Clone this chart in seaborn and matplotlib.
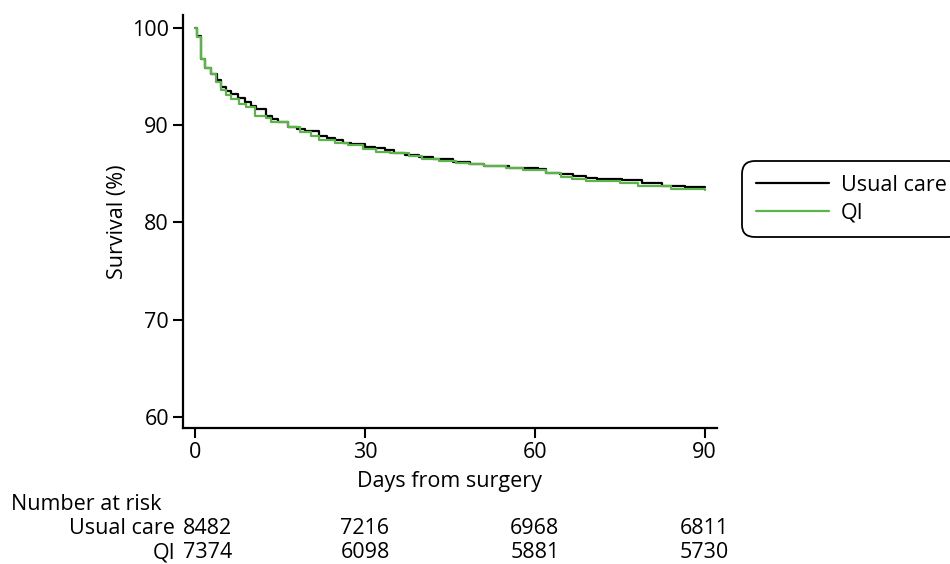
import pandas as pd
import numpy as np
import matplotlib.pyplot as plt
import matplotlib.transforms as mtransforms
import seaborn as sns

# Kaplan-Meier step values
usual_days = [0, 0.3, 1, 1.8, 2.7, 3.9, 4.5, 5.5, 6.4, 7.6, 8.8, 9.8, 10.8, 12.5, 13.6,
              14.7, 16.4, 18.0, 19.4, 21.8, 23.2, 24.7, 26.2, 27.6, 30, 31.8, 33.6, 35.2,
              37, 39.5, 42, 45.6, 48.5, 51, 55.5, 60.6, 62, 64.5, 66.8, 69, 71, 75.4, 79,
              82.5, 86.5, 90]
usual_surv = [100, 99.1, 96.8, 95.9, 95.2, 94.6, 93.9, 93.5, 93.2, 92.8, 92.4, 92.0, 91.6,
              90.9, 90.6, 90.3, 89.8, 89.6, 89.4, 88.9, 88.7, 88.5, 88.2, 88.0, 87.7, 87.6,
              87.4, 87.1, 86.9, 86.7, 86.5, 86.2, 86.0, 85.8, 85.6, 85.5, 85.1, 85.0, 84.8,
              84.6, 84.4, 84.3, 84.0, 83.7, 83.6, 83.6]

qi_days = [0, 0.3, 1, 1.8, 2.7, 3.6, 4.5, 5.5, 6.4, 7.8, 9, 10.6, 12.5, 13.4, 16.4, 18.6,
           20.5, 21.8, 24.7, 27, 29.7, 32, 34.5, 37.7, 40, 43, 46, 48.3, 51, 55, 58, 62,
           64.7, 66.5, 69, 75, 78.3, 84, 90]
qi_surv = [100, 99.0, 96.8, 95.9, 95.2, 94.4, 93.6, 93.1, 92.7, 92.2, 91.8, 90.9, 90.7,
           90.3, 89.8, 89.3, 88.9, 88.5, 88.2, 87.9, 87.5, 87.2, 87.1, 86.8, 86.5, 86.3,
           86.1, 86.0, 85.8, 85.6, 85.4, 85.1, 84.7, 84.4, 84.2, 84.0, 83.7, 83.4, 83.3]

groups = ["Usual care", "QI"]
risk_days = [0, 30, 60, 90]
risk_usual = [8482, 7216, 6968, 6811]
risk_qi = [7374, 6098, 5881, 5730]

df = pd.concat([
    pd.DataFrame({"day": usual_days, "surv": usual_surv, "group": "Usual care"}),
    pd.DataFrame({"day": qi_days, "surv": qi_surv, "group": "QI"}),
])

sns.set_style("ticks")
plt.rcParams["font.family"] = ["Open Sans", "DejaVu Sans"]
plt.rcParams["text.color"] = "black"
plt.rcParams["xtick.color"] = "black"
plt.rcParams["ytick.color"] = "black"
plt.rcParams["axes.labelcolor"] = "black"
fs = 15.5

fig = plt.figure(figsize=(9.5, 5.64), dpi=100)
ax = fig.add_axes([183 / 950, 1 - 427.7 / 564, (716.7 - 183) / 950, (427.7 - 15) / 564])

sns.lineplot(data=df, x="day", y="surv", hue="group", hue_order=groups,
             palette={"Usual care": "black", "QI": "#5ab448"},
             drawstyle="steps-post", estimator=None, linewidth=1.6, ax=ax)

ax.set_xlim(-2.16, 92.15)
ax.set_ylim(58.9, 101.3)
ax.set_xticks([0, 30, 60, 90])
ax.set_yticks([60, 70, 80, 90, 100])
ax.tick_params(labelsize=fs, length=7, width=1.5, pad=3)
for s in ["left", "bottom"]:
    ax.spines[s].set_linewidth(1.6)
    ax.spines[s].set_color("black")
sns.despine(ax=ax)
ax.set_xlabel("Days from surgery", fontsize=fs)
ax.set_ylabel("Survival (%)", fontsize=fs)
ax.xaxis.label.set_va("center")
ax.yaxis.label.set_va("center")
ax.xaxis.set_label_coords(0.5, (427.7 - 482) / 412.7)
ax.yaxis.set_label_coords((118 - 183) / 533.7, 0.5)

ax.legend_.remove()
handles, labels = ax.get_legend_handles_labels()
leg = fig.legend(handles, labels, loc="upper left", bbox_to_anchor=(742 / 950, 1 - 161 / 564),
                 fontsize=fs, frameon=True, fancybox=True, framealpha=1, handlelength=3.4,
                 handletextpad=0.55, labelspacing=0.3, borderpad=0.65, borderaxespad=0)
leg.get_frame().set_edgecolor("black")
leg.get_frame().set_linewidth(1.3)
leg.get_frame().set_boxstyle("round,pad=0,rounding_size=0.6")

# number at risk table
def fy(py):
    return 1 - py / 564

fig.text(11 / 950, fy(504), "Number at risk", fontsize=fs, va="center", ha="left")
rows = [("Usual care", risk_usual, 528), ("QI", risk_qi, 553)]
trans = mtransforms.blended_transform_factory(ax.transData, fig.transFigure)
x0 = ax.get_xlim()[0]
for label, vals, py in rows:
    fig.text(175 / 950, fy(py), label, fontsize=fs, va="center", ha="right")
    for d, v in zip(risk_days, vals):
        if d == 0:
            ax.text(x0, fy(py), str(v), fontsize=fs, va="center", ha="left",
                    transform=trans, clip_on=False)
        else:
            ax.text(d, fy(py), str(v), fontsize=fs, va="center", ha="center",
                    transform=trans, clip_on=False)

fig.savefig("out.png", dpi=100)
